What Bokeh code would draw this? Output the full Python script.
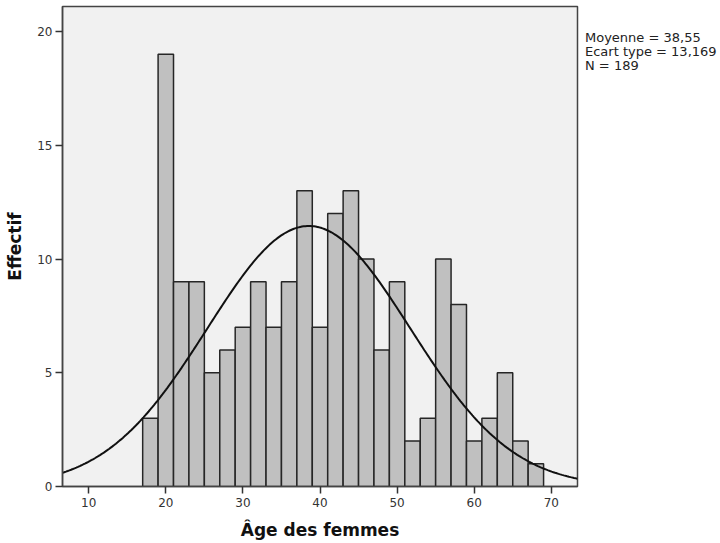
import numpy as np
from bokeh.plotting import figure
from bokeh.models import ColumnDataSource, FixedTicker, Range1d, Div
from bokeh.layouts import row
from bokeh.embed import file_html
from bokeh.resources import INLINE

# Histogram data (bins of width 2 years)
bin_left = [17, 19, 21, 23, 25, 27, 29, 31, 33, 35, 37, 39, 41, 43, 45, 47, 49, 51, 53, 55, 57, 59, 61, 63, 65, 67]
counts = [3, 19, 9, 9, 5, 6, 7, 9, 7, 9, 13, 7, 12, 13, 10, 6, 9, 2, 3, 10, 8, 2, 3, 5, 2, 1]
bin_width = 2
mean_val = 38.55
sd_val = 13.169
n_val = 189
x_ticks = [10, 20, 30, 40, 50, 60, 70]
y_ticks = [0, 5, 10, 15, 20]
stats_lines = ["Moyenne = 38,55", "Ecart type = 13,169", "N = 189"]

x_lo, x_hi = 6.6, 73.4

p = figure(width=585, height=543, output_backend="svg", toolbar_location=None,
           x_range=Range1d(x_lo, x_hi), y_range=Range1d(0, 21.1),
           min_border_left=62, min_border_right=8, min_border_top=6, min_border_bottom=57)

p.background_fill_color = "#f1f1f1"
p.border_fill_color = "white"
p.outline_line_color = "#444444"
p.outline_line_width = 1.5
p.grid.visible = False

src = ColumnDataSource(dict(left=bin_left, right=[b + bin_width for b in bin_left], top=counts))
p.quad(left="left", right="right", bottom=0, top="top", source=src,
       fill_color="#c0c0c0", line_color="#262626", line_width=1.5)

xs = np.linspace(x_lo, x_hi, 300)
ys = n_val * bin_width / (sd_val * np.sqrt(2 * np.pi)) * np.exp(-0.5 * ((xs - mean_val) / sd_val) ** 2)
p.line(xs, ys, line_color="#111111", line_width=2)

for ax in (p.xaxis[0], p.yaxis[0]):
    ax.axis_line_color = "#444444"
    ax.axis_line_width = 1.5
    ax.major_tick_line_color = "#333333"
    ax.major_tick_line_width = 1.5
    ax.minor_tick_line_color = None
    ax.major_label_text_font = "DejaVu Sans"
    ax.major_label_text_font_size = "12px"
    ax.major_label_text_color = "#333333"
    ax.axis_label_text_font = "DejaVu Sans"
    ax.axis_label_text_font_style = "bold"
    ax.axis_label_text_color = "#111111"
    ax.axis_label_text_font_size = "17px"
    ax.major_tick_out = 7
    ax.major_tick_in = 0

p.xaxis.ticker = FixedTicker(ticks=x_ticks)
p.yaxis.ticker = FixedTicker(ticks=y_ticks)
p.xaxis.major_label_standoff = 4
p.yaxis.major_label_standoff = 3
p.xaxis.axis_label = "Âge des femmes"
p.yaxis.axis_label = "Effectif"
p.xaxis.axis_label_standoff = 10
p.yaxis.axis_label_standoff = 9

# statistics box beside the plot
stats = Div(text="<br>".join(stats_lines), width=135, height=120, margin=0,
            styles={"font-family": "DejaVu Sans", "font-size": "13px", "line-height": "14px",
                    "color": "#222222", "padding-top": "31px", "white-space": "nowrap"})

layout = row(p, stats, spacing=0)
open("out.html", "w").write(file_html(layout, INLINE))
